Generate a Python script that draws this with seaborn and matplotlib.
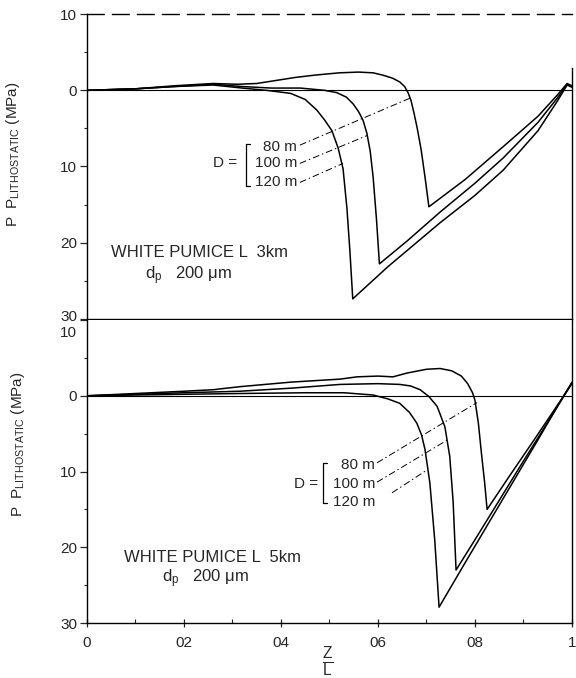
import numpy as np
import pandas as pd
import matplotlib
matplotlib.use("Agg")
import matplotlib.pyplot as plt
import matplotlib.transforms as mtransforms
import seaborn as sns

# ---------------- data ----------------
# Upper panel: WHITE PUMICE, L = 3 km
top_z_80 = [0.00, 0.10, 0.18, 0.26, 0.31, 0.35, 0.39, 0.43, 0.47, 0.52, 0.56, 0.59, 0.61, 0.63, 0.645,
            0.655, 0.662, 0.668, 0.674, 0.681, 0.689, 0.697, 0.705, 0.78, 0.86, 0.93, 0.97, 0.99, 1.00]
top_p_80 = [0.0, -0.2, -0.6, -0.9, -0.8, -0.9, -1.3, -1.7, -2.0, -2.3, -2.4, -2.3, -2.0, -1.6, -1.1,
            -0.5, 0.3, 1.3, 2.9, 5.0, 7.8, 11.4, 15.3, 11.7, 7.3, 3.4, 0.6, -0.9, -0.6]
top_z_100 = [0.00, 0.10, 0.18, 0.26, 0.32, 0.38, 0.44, 0.49, 0.515, 0.535, 0.549, 0.56, 0.569, 0.577,
             0.584, 0.59, 0.597, 0.603, 0.66, 0.728, 0.80, 0.858, 0.93, 0.97, 0.99, 1.00]
top_p_100 = [0.0, -0.2, -0.5, -0.8, -0.5, -0.3, -0.3, 0.0, 0.3, 0.9, 1.8, 2.8, 3.9, 5.6,
             8.0, 11.4, 17.0, 22.8, 19.8, 16.0, 12.2, 8.9, 4.2, 1.0, -0.8, -0.5]
top_z_120 = [0.00, 0.10, 0.18, 0.26, 0.32, 0.37, 0.42, 0.45, 0.474, 0.49, 0.505, 0.518, 0.528, 0.536,
             0.542, 0.548, 0.62, 0.728, 0.80, 0.858, 0.93, 0.97, 0.99, 1.00]
top_p_120 = [0.0, -0.2, -0.5, -0.7, -0.3, 0.0, 0.4, 1.2, 2.6, 3.9, 5.3, 7.6, 10.3, 15.5,
             21.0, 27.4, 23.2, 17.4, 13.8, 10.5, 5.3, 1.4, -0.7, -0.4]

# Lower panel: WHITE PUMICE, L = 5 km
bot_z_80 = [0.00, 0.10, 0.20, 0.26, 0.315, 0.42, 0.522, 0.557, 0.60, 0.631, 0.66, 0.70, 0.728, 0.752,
            0.772, 0.785, 0.795, 0.80, 0.807, 0.814, 0.82, 0.825, 0.87, 0.92, 0.96, 0.985, 1.00]
bot_p_80 = [0.0, -0.3, -0.6, -0.8, -1.2, -1.8, -2.2, -2.5, -2.6, -2.5, -3.0, -3.5, -3.6, -3.3,
            -2.6, -1.6, -0.4, 0.6, 3.6, 8.0, 11.5, 15.0, 10.7, 6.0, 2.2, -0.2, -1.6]
bot_z_100 = [0.00, 0.10, 0.20, 0.315, 0.42, 0.522, 0.60, 0.645, 0.667, 0.687, 0.705, 0.722, 0.738,
             0.748, 0.755, 0.761, 0.80, 0.85, 0.90, 0.95, 0.98, 1.00]
bot_p_100 = [0.0, -0.2, -0.4, -0.6, -1.0, -1.5, -1.6, -1.5, -1.3, -0.8, 0.1, 1.4, 4.1,
             8.0, 14.0, 23.0, 19.0, 13.8, 8.6, 3.5, 0.4, -1.7]
bot_z_120 = [0.00, 0.10, 0.20, 0.315, 0.45, 0.53, 0.59, 0.62, 0.645, 0.665, 0.68, 0.69, 0.697,
             0.707, 0.717, 0.726, 0.78, 0.83, 0.88, 0.93, 0.97, 1.00]
bot_p_120 = [0.0, -0.1, -0.2, -0.3, -0.4, -0.4, -0.1, 0.4, 1.0, 2.2, 3.6, 5.2, 7.1,
             11.5, 19.0, 27.9, 22.0, 16.6, 11.2, 5.8, 1.4, -1.8]

depths = ["80 m", "100 m", "120 m"]
panel_titles = ["WHITE PUMICE L  3km", "WHITE PUMICE L  5km"]
dp_label = "d$_{\\mathrm{p}}$   200 μm"
ytick_vals = [-10, 0, 10, 20, 30]
ytick_labels = ["10", "0", "10", "20", "30"]
xtick_vals = [0, 0.2, 0.4, 0.6, 0.8, 1.0]
xtick_labels = ["0", "02", "04", "06", "08", "1"]
ylabel = "P  P$_{\\mathrm{LITHOSTATIC}}$ (MPa)"

# leader lines (label end -> curve), in data coords
top_leaders = [((0.439, 7.2), (0.667, 1.0)),
               ((0.439, 9.6), (0.579, 5.9)),
               ((0.439, 12.1), (0.528, 9.6))]
bot_leaders = [((0.598, 8.85), (0.804, 0.9)),
               ((0.598, 11.4), (0.744, 5.8)),
               ((0.629, 12.8), (0.701, 9.8))]


def frame(zs, ps):
    rows = []
    for d, z, p in zip(depths, zs, ps):
        rows.append(pd.DataFrame({"z": z, "p": p, "D": d}))
    return pd.concat(rows, ignore_index=True)


top_df = frame([top_z_80, top_z_100, top_z_120], [top_p_80, top_p_100, top_p_120])
bot_df = frame([bot_z_80, bot_z_100, bot_z_120], [bot_p_80, bot_p_100, bot_p_120])

# ---------------- style ----------------
sns.set_style("ticks")
plt.rcParams["font.family"] = ["Liberation Sans", "DejaVu Sans"]
plt.rcParams["mathtext.fontset"] = "custom"
plt.rcParams["mathtext.rm"] = "Liberation Sans"
plt.rcParams["mathtext.it"] = "Liberation Sans:italic"

fig = plt.figure(figsize=(5.76, 6.78), dpi=100)
ax1 = fig.add_axes([0.151, 0.530, 0.842, 0.449])
ax2 = fig.add_axes([0.151, 0.081, 0.842, 0.447])

FS = 11
FS_T = 12


def style_axis(ax, df, leaders, legend_pos, title_pos, dp_pos):
    ax.axhline(0, color="black", lw=0.8, zorder=1)
    sns.lineplot(data=df, x="z", y="p", units="D", estimator=None, sort=False,
                 color="black", lw=1.1, ax=ax, legend=False)
    ax.set_xlim(0, 1)
    ax.set_ylim(30, -10)
    ax.set_yticks(ytick_vals)
    ax.set_yticklabels(ytick_labels, fontsize=FS)
    ax.set_yticks([-5, 5, 15, 25], minor=True)
    ax.tick_params(axis="y", which="major", direction="out", length=5, width=0.9, pad=2)
    ax.tick_params(axis="y", which="minor", direction="out", length=2.5, width=0.8)
    ax.set_ylabel(ylabel, fontsize=11)
    for s in ax.spines.values():
        s.set_linewidth(1.0)
        s.set_color("black")
    # leaders
    for (x0, y0), (x1, y1) in leaders:
        ax.plot([x0, x1], [y0, y1], color="black", lw=0.7,
                linestyle=(0, (7, 3, 1.5, 3)))
    # legend bracket
    lx, p80, p100, p120, dx, bx, btop, bbot = legend_pos
    for lab, py in zip(depths, [p80, p100, p120]):
        ax.text(lx, py, lab, ha="right", va="center", fontsize=FS)
    ax.text(dx, p100, "D =", ha="right", va="center", fontsize=FS)
    ax.plot([bx, bx], [btop, bbot], color="black", lw=0.9)
    ax.plot([bx, bx + 0.008], [btop, btop], color="black", lw=0.9)
    ax.plot([bx, bx + 0.008], [bbot, bbot], color="black", lw=0.9)
    ax.text(title_pos[0], title_pos[1], title_pos[2], ha="center", va="center", fontsize=FS_T)
    ax.text(dp_pos[0], dp_pos[1], dp_label, ha="center", va="center", fontsize=FS_T)


style_axis(ax1, top_df, top_leaders,
           (0.433, 7.4, 9.5, 12.0, 0.309, 0.328, 7.0, 12.6),
           (0.233, 21.3, panel_titles[0]), (0.210, 24.3))
style_axis(ax2, bot_df, bot_leaders,
           (0.594, 9.1, 11.6, 14.0, 0.476, 0.487, 8.9, 14.1),
           (0.258, 21.3, panel_titles[1]), (0.245, 24.2))

# top panel: no x tick labels, dashed top border
ax1.set_xticks([])
ax1.set_xlabel("")
ax1.spines["top"].set_linestyle((0, (12, 6)))
ax1.spines["right"].set_bounds(30, -3)
ax1.yaxis.set_label_coords(-0.134, 0.54)
last = ax1.get_yticklabels()[-1]
last.set_va("bottom")
last.set_transform(last.get_transform() +
                   mtransforms.ScaledTranslation(0, -5 / 100, fig.dpi_scale_trans))

# bottom panel
ax2.spines["top"].set_visible(False)
ax2.set_xticks(xtick_vals)
ax2.set_xticklabels(xtick_labels, fontsize=FS)
ax2.set_xticks([0.1, 0.3, 0.5, 0.7, 0.9], minor=True)
ax2.tick_params(axis="x", which="major", direction="inout", length=6, width=0.9, pad=6)
ax2.tick_params(axis="x", which="minor", direction="in", length=3, width=0.8)
first = ax2.get_yticklabels()[0]
first.set_va("top")
first.set_transform(first.get_transform() +
                    mtransforms.ScaledTranslation(0, -6 / 100, fig.dpi_scale_trans))
ax2.yaxis.set_label_coords(-0.124, 0.59)
ax2.set_xlabel(r"$\frac{\mathrm{Z}}{\mathrm{L}}$", fontsize=16)
ax2.xaxis.set_label_coords(0.497, -0.07)

fig.savefig("out.png", dpi=100, facecolor="white")
